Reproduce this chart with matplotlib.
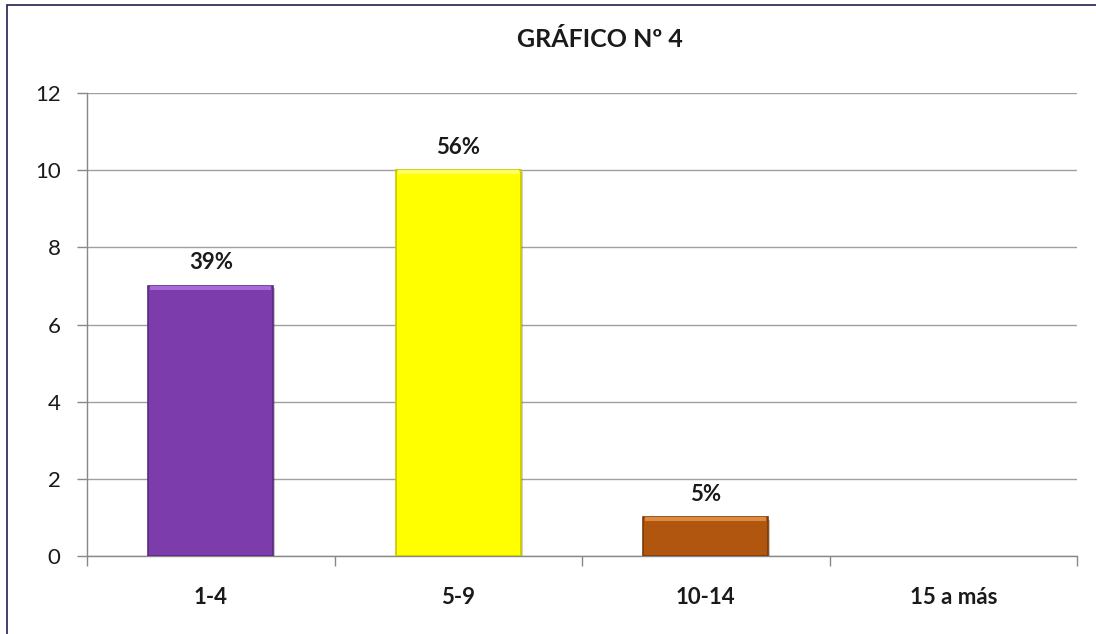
import matplotlib
matplotlib.use("Agg")
import matplotlib.pyplot as plt
import matplotlib.patheffects as pe
import numpy as np

categories = ["1-4", "5-9", "10-14", "15 a más"]
values = [7, 10, 1, 0]
pct_labels = ["39%", "56%", "5%", ""]
colors = ["#7D3CAC", "#FFFF00", "#B0560F", "#888888"]
light_colors = ["#A968D8", "#FFFF60", "#E08A40", "#AAAAAA"]
edge_colors = ["#5A2A80", "#C8C800", "#7A3A08", "#888888"]
title = "GRÁFICO Nº 4"
yticks = [0, 2, 4, 6, 8, 10, 12]

plt.rcParams['font.family'] = ['Lato', 'DejaVu Sans']

fig = plt.figure(figsize=(10.96, 6.34), dpi=100)
ax = fig.add_axes([0.0794, 0.123, 0.9033, 0.730])

x = np.arange(len(categories))
bw = 0.505
for i, v in enumerate(values):
    if v <= 0:
        continue
    ax.bar(x[i], v, width=bw, color=colors[i], edgecolor=edge_colors[i], linewidth=1.2,
           zorder=3, path_effects=[pe.SimplePatchShadow(offset=(1.5, -1.5), alpha=0.25), pe.Normal()])
    # bevel highlight on top
    ax.bar(x[i], 0.09, bottom=v - 0.09, width=bw * 0.97, color=light_colors[i],
           linewidth=0, zorder=3.5)
    ax.text(x[i], v + 0.33, pct_labels[i], ha="center", va="bottom", fontsize=16,
            fontweight="bold", color="#1a1a1a", zorder=4)

ax.set_xlim(-0.5, len(categories) - 0.5)
ax.set_ylim(0, 12)
ax.set_yticks(yticks)
ax.set_yticklabels([str(t) for t in yticks], fontsize=16, color="#1a1a1a")
ax.yaxis.grid(True, color="#A0A0A0", linewidth=1.0, zorder=0)
ax.set_axisbelow(True)

ax.set_xticks(x)
ax.set_xticklabels(categories, fontsize=16, fontweight="bold", color="#1a1a1a")
ax.tick_params(axis="x", length=0, pad=22)
ax.set_xticks(np.arange(len(categories) + 1) - 0.5, minor=True)
ax.tick_params(axis="x", which="minor", length=7, color="#888888", width=1)
ax.tick_params(axis="y", length=7, color="#888888", width=1, pad=12)

for s in ["top", "right"]:
    ax.spines[s].set_visible(False)
for s in ["left", "bottom"]:
    ax.spines[s].set_color("#888888")
    ax.spines[s].set_linewidth(1.0)

fig.text(0.547, 0.937, title, ha="center", va="center", fontsize=18, fontweight="bold", color="#1a1a1a")

# outer chart border
border = plt.Rectangle((0.0065, -0.1), 1.1, 1.092, transform=fig.transFigure, fill=False,
                       edgecolor="#1F1F4F", linewidth=1.2)
fig.add_artist(border)

fig.savefig("out.png", dpi=100)
